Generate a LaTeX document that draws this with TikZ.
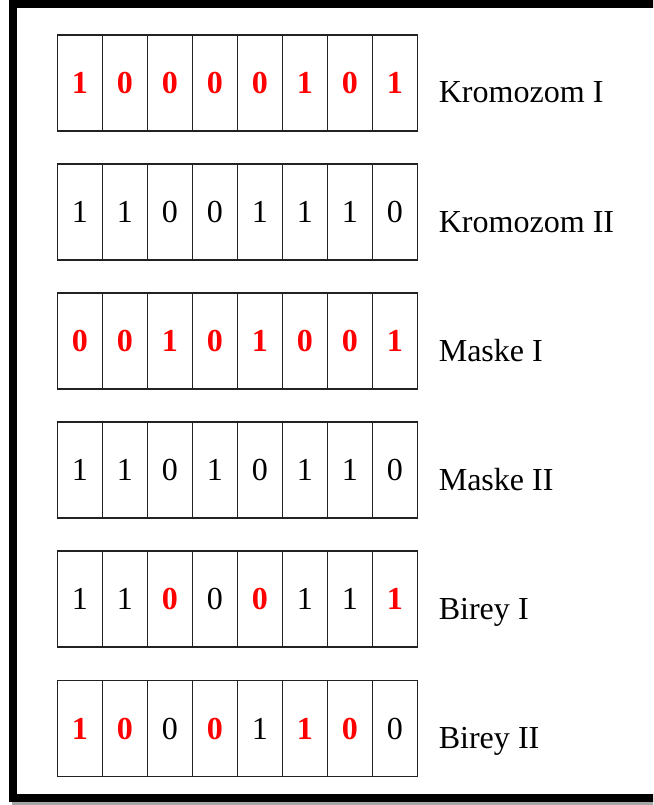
\documentclass[tikz,border=0pt]{standalone}
\usepackage{fontspec}
\setmainfont{Liberation Serif}
\usepackage{tikz}
\usetikzlibrary{positioning}
\usepackage{xcolor}
\definecolor{bitred}{HTML}{FF0000}
\definecolor{gridline}{HTML}{222222}

\begin{document}
\begin{tikzpicture}[
    cell/.style={draw=gridline, line width=1.4pt, minimum width=1.125cm, minimum height=2.4cm, inner sep=0pt, font=\fontsize{22.8pt}{27pt}\selectfont},
    redbit/.style={text=bitred, font=\fontsize{22.8pt}{27pt}\selectfont\bfseries},
    plainbit/.style={text=black},
    rowname/.style={inner sep=0pt, font=\fontsize{22.8pt}{27pt}\selectfont},
    frameline/.style={draw=black, line width=0.2cm},
]

% Page and frame
\useasboundingbox (0,0) rectangle (16.325,20.125);
\clip (0,0) rectangle (16.325,20.125);
\fill[black!35] (0.3,0) rectangle (17,0.1);
\draw[frameline] (0.325,0.175) rectangle (17,20.025);

% Kromozom I
\foreach \v/\s [count=\i] in {1/redbit,0/redbit,0/redbit,0/redbit,0/redbit,1/redbit,0/redbit,1/redbit}
  \node[cell,\s] (kI-\i) at ({0.875+1.125*\i}, 18.05) {\v};
\node[rowname, right=0.5cm of kI-8, anchor=base west, yshift=-0.5cm] (kIname) {Kromozom I};

% Kromozom II
\foreach \v/\s [count=\i] in {1/plainbit,1/plainbit,0/plainbit,0/plainbit,1/plainbit,1/plainbit,1/plainbit,0/plainbit}
  \node[cell,\s] (kII-\i) at ({0.875+1.125*\i}, 14.8225) {\v};
\node[rowname, right=0.5cm of kII-8, anchor=base west, yshift=-0.5cm] (kIIname) {Kromozom II};

% Maske I
\foreach \v/\s [count=\i] in {0/redbit,0/redbit,1/redbit,0/redbit,1/redbit,0/redbit,0/redbit,1/redbit}
  \node[cell,\s] (mI-\i) at ({0.875+1.125*\i}, 11.595) {\v};
\node[rowname, right=0.5cm of mI-8, anchor=base west, yshift=-0.5cm] (mIname) {Maske I};

% Maske II
\foreach \v/\s [count=\i] in {1/plainbit,1/plainbit,0/plainbit,1/plainbit,0/plainbit,1/plainbit,1/plainbit,0/plainbit}
  \node[cell,\s] (mII-\i) at ({0.875+1.125*\i}, 8.3675) {\v};
\node[rowname, right=0.5cm of mII-8, anchor=base west, yshift=-0.5cm] (mIIname) {Maske II};

% Birey I
\foreach \v/\s [count=\i] in {1/plainbit,1/plainbit,0/redbit,0/plainbit,0/redbit,1/plainbit,1/plainbit,1/redbit}
  \node[cell,\s] (bI-\i) at ({0.875+1.125*\i}, 5.14) {\v};
\node[rowname, right=0.5cm of bI-8, anchor=base west, yshift=-0.5cm] (bIname) {Birey I};

% Birey II
\foreach \v/\s [count=\i] in {1/redbit,0/redbit,0/plainbit,0/redbit,1/plainbit,1/redbit,0/redbit,0/plainbit}
  \node[cell,\s] (bII-\i) at ({0.875+1.125*\i}, 1.9125) {\v};
\node[rowname, right=0.5cm of bII-8, anchor=base west, yshift=-0.5cm] (bIIname) {Birey II};

\end{tikzpicture}
\end{document}
